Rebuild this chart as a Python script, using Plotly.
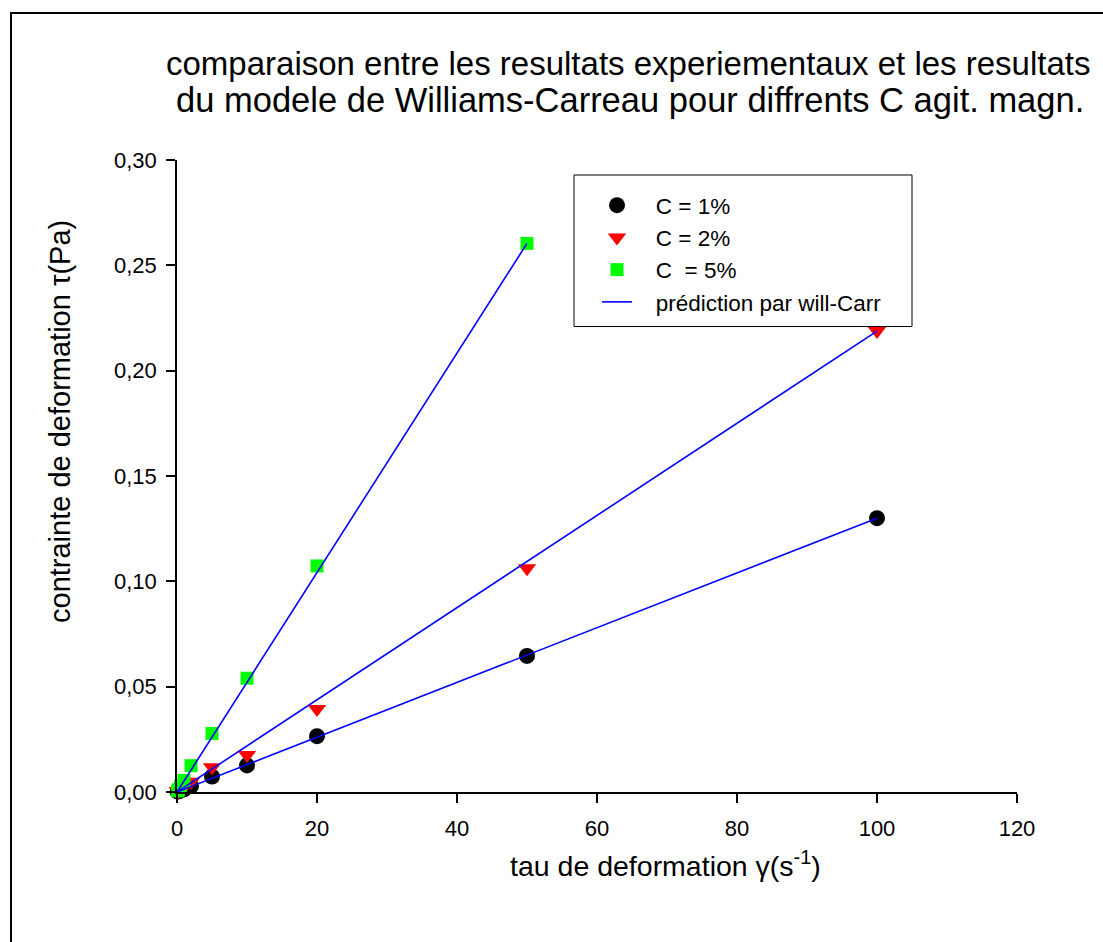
import plotly.graph_objects as go

# Shear rate (s^-1) and measured shear stress (Pa) for each concentration
gamma_c1 = [0.1, 0.2, 0.5, 1, 2, 5, 10, 20, 50, 100]
tau_c1 = [0.0002, 0.0003, 0.0007, 0.0013, 0.0028, 0.0073, 0.0126, 0.0265, 0.0646, 0.1300]

gamma_c2 = [0.1, 0.2, 0.5, 1, 2, 5, 10, 20, 50, 100]
tau_c2 = [0.0003, 0.0005, 0.0011, 0.0022, 0.0049, 0.0117, 0.0176, 0.0394, 0.1062, 0.2188]

gamma_c5 = [0.1, 0.2, 0.5, 1, 2, 5, 10, 20, 50]
tau_c5 = [0.0005, 0.0011, 0.0027, 0.0055, 0.0125, 0.0278, 0.0540, 0.1073, 0.2604]

# Williams-Carreau model predictions
gamma_model_c1 = [0, 100]
tau_model_c1 = [0, 0.1300]
gamma_model_c2 = [0, 100]
tau_model_c2 = [0, 0.2188]
gamma_model_c5 = [0, 50]
tau_model_c5 = [0, 0.2604]

x_ticks = [0, 20, 40, 60, 80, 100, 120]
y_ticks = [0.00, 0.05, 0.10, 0.15, 0.20, 0.25, 0.30]

FONT = "Liberation Sans, Arial, sans-serif"
W, H = 1103, 942
L, R, T, B = 177, 86, 160, 150
PW, PH = W - L - R, H - T - B
PAD = "\u00a0\u00a0\u00a0"  # extra gap between legend symbol and label


def px(x):
    return (x - L) / PW


def py(y):
    return (H - B - y) / PH


fig = go.Figure()

fig.add_trace(go.Scatter(
    x=gamma_c1, y=tau_c1, mode="markers", name=PAD + "C = 1%",
    marker=dict(symbol="circle", size=16, color="black", line=dict(width=0)),
    cliponaxis=False,
))
fig.add_trace(go.Scatter(
    x=gamma_c2, y=tau_c2, mode="markers", name=PAD + "C = 2%",
    marker=dict(symbol="triangle-down", size=16, color="#ff0000", line=dict(width=0)),
    cliponaxis=False,
))
fig.add_trace(go.Scatter(
    x=gamma_c5, y=tau_c5, mode="markers", name=PAD + "C\u00a0 = 5%",
    marker=dict(symbol="square", size=13, color="#00ff00", line=dict(width=0)),
    cliponaxis=False,
))

line_style = dict(color="#0000ff", width=1.6)
fig.add_trace(go.Scatter(
    x=gamma_model_c1, y=tau_model_c1, mode="lines", name=PAD + "prédiction par will-Carr",
    line=line_style, cliponaxis=False,
))
fig.add_trace(go.Scatter(
    x=gamma_model_c2, y=tau_model_c2, mode="lines", name="prédiction par will-Carr",
    line=line_style, showlegend=False, cliponaxis=False,
))
fig.add_trace(go.Scatter(
    x=gamma_model_c5, y=tau_model_c5, mode="lines", name="prédiction par will-Carr",
    line=line_style, showlegend=False, cliponaxis=False,
))

axis_common = dict(
    showline=True, linecolor="black", linewidth=1.5,
    ticks="outside", ticklen=9, tickwidth=1.5, tickcolor="black",
    showgrid=False, zeroline=False,
    tickfont=dict(family=FONT, size=22, color="black"),
)

fig.update_xaxes(range=[0, 120], tickvals=x_ticks, ticklabelstandoff=7, **axis_common)
fig.update_yaxes(range=[0, 0.30], tickvals=y_ticks, tickformat=".2f",
                 ticklabelstandoff=5, **axis_common)

annotations = [
    dict(text="comparaison entre les resultats experiementaux et les resultats",
         x=px(627.5), y=py(63), font=dict(size=33)),
    dict(text="du modele de Williams-Carreau pour diffrents C agit. magn.",
         x=px(630), y=py(100), font=dict(size=34.5)),
    dict(text="contrainte de deformation τ(Pa)",
         x=px(60), y=py(422), textangle=-90, font=dict(size=29)),
    dict(text="tau de deformation γ(s<sup>-1</sup>)",
         x=px(665), y=py(864), font=dict(size=28.5)),
]
for a in annotations:
    a.update(xref="paper", yref="paper", showarrow=False,
             xanchor="center", yanchor="middle")
    a["font"].update(family=FONT, color="black")

fig.update_layout(
    width=W, height=H,
    margin=dict(l=L, r=R, t=T, b=B),
    paper_bgcolor="white", plot_bgcolor="white",
    separators=", ",
    font=dict(family=FONT, color="black"),
    showlegend=True,
    legend=dict(
        x=px(597), y=py(184), xanchor="left", yanchor="top",
        bgcolor="rgba(0,0,0,0)", borderwidth=0, tracegroupgap=0,
        font=dict(family=FONT, size=22.5, color="black"),
        itemsizing="trace",
    ),
    annotations=annotations,
    shapes=[
        # page frame
        dict(type="rect", xref="paper", yref="paper",
             x0=px(11), x1=px(1110), y0=py(960), y1=py(13),
             line=dict(color="black", width=2)),
        # legend frame
        dict(type="rect", xref="paper", yref="paper",
             x0=px(574), x1=px(912), y0=py(326.5), y1=py(175),
             line=dict(color="black", width=1)),
    ],
)

fig.write_html("out.html")
